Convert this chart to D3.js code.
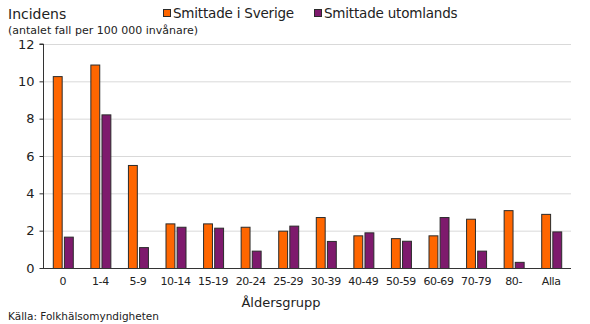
<!DOCTYPE html>
<html><head><meta charset="utf-8">
<script src="https://cdn.jsdelivr.net/npm/d3@7"></script>
<style>body{margin:0;background:#fff}svg{display:block;font-family:"DejaVu Sans",Verdana,sans-serif}</style>
</head><body><svg id="c" width="590" height="324"></svg>
<script>
const categories = ["0","1-4","5-9","10-14","15-19","20-24","25-29","30-39","40-49","50-59","60-69","70-79","80-","Alla"];
const sverige = [10.28,10.9,5.52,2.39,2.39,2.21,2.0,2.73,1.75,1.6,1.75,2.64,3.1,2.9];
const utomlands = [1.68,8.23,1.12,2.21,2.16,0.93,2.27,1.45,1.91,1.46,2.73,0.93,0.33,1.96];
const yTicks = [0,2,4,6,8,10,12];
const seriesNames = ["Smittade i Sverige","Smittade utomlands"];
const colors = ["#FF6600","#7E1A6D"];

const svg = d3.select("#c");
const L=43, R=571, T=44, B=268;
const x = d3.scaleBand().domain(categories).range([L+1,R-1]).paddingInner(0).paddingOuter(0);
const y = d3.scaleLinear().domain([0,12]).range([B,T]);
const xs = d3.scaleBand().domain([0,1]).range([0,20]).paddingInner(0.2);

svg.append("g").selectAll("line").data(yTicks.filter(d=>d>0)).join("line")
  .attr("x1",L).attr("x2",R).attr("y1",d=>y(d)+0.5).attr("y2",d=>y(d)+0.5)
  .attr("stroke","#d9d9d9").attr("stroke-width",1);

const series=[sverige,utomlands];
series.forEach((vals,si)=>{
  svg.append("g").selectAll("rect").data(vals).join("rect")
    .attr("x",(d,i)=>x(categories[i])+x.bandwidth()/2-10+xs(si)+0.5)
    .attr("width",xs.bandwidth())
    .attr("y",d=>y(d)+0.5)
    .attr("height",d=>B-y(d))
    .attr("fill",colors[si]).attr("stroke","#2b2b2b").attr("stroke-width",1);
});

const ya = d3.axisLeft(y).tickValues(yTicks).tickSize(4).tickPadding(5).tickFormat(d3.format("d"));
const gy = svg.append("g").attr("transform",`translate(${L+0.5},0)`).call(ya);
gy.select(".domain").attr("stroke","#333").attr("d",`M-4,${T}H0V${B}`);
gy.selectAll(".tick line").attr("stroke","#333");
gy.selectAll(".tick text").attr("font-size",13).attr("fill","#222").attr("font-family","DejaVu Sans");

const xa = d3.axisBottom(x).tickSize(0).tickPadding(9);
const gx = svg.append("g").attr("transform",`translate(0,${B+0.5})`).call(xa);
gx.select(".domain").attr("stroke","#333").attr("d",`M${L},0H${R}`);
gx.selectAll(".tick text").attr("font-size",11).attr("letter-spacing",-0.4).attr("fill","#222").attr("font-family","DejaVu Sans");

svg.append("text").attr("x",8).attr("y",19).attr("font-size",14).attr("fill","#222").text("Incidens");
svg.append("text").attr("x",8).attr("y",34).attr("font-size",11).attr("fill","#222").text("(antalet fall per 100 000 invånare)");
svg.append("text").attr("x",281).attr("y",307).attr("text-anchor","middle").attr("font-size",13).attr("fill","#222").text("Åldersgrupp");
svg.append("text").attr("x",8).attr("y",320).attr("font-size",10.5).attr("fill","#222").text("Källa: Folkhälsomyndigheten");

const lg=[{x:163},{x:314}];
seriesNames.forEach((n,i)=>{
  svg.append("rect").attr("x",lg[i].x+0.5).attr("y",9.5).attr("width",7).attr("height",7)
    .attr("fill",colors[i]).attr("stroke","#2b2b2b");
  svg.append("text").attr("x",lg[i].x+10).attr("y",18).attr("font-size",13.5).attr("letter-spacing",-0.2).attr("fill","#222").text(n);
});
</script></body></html>
